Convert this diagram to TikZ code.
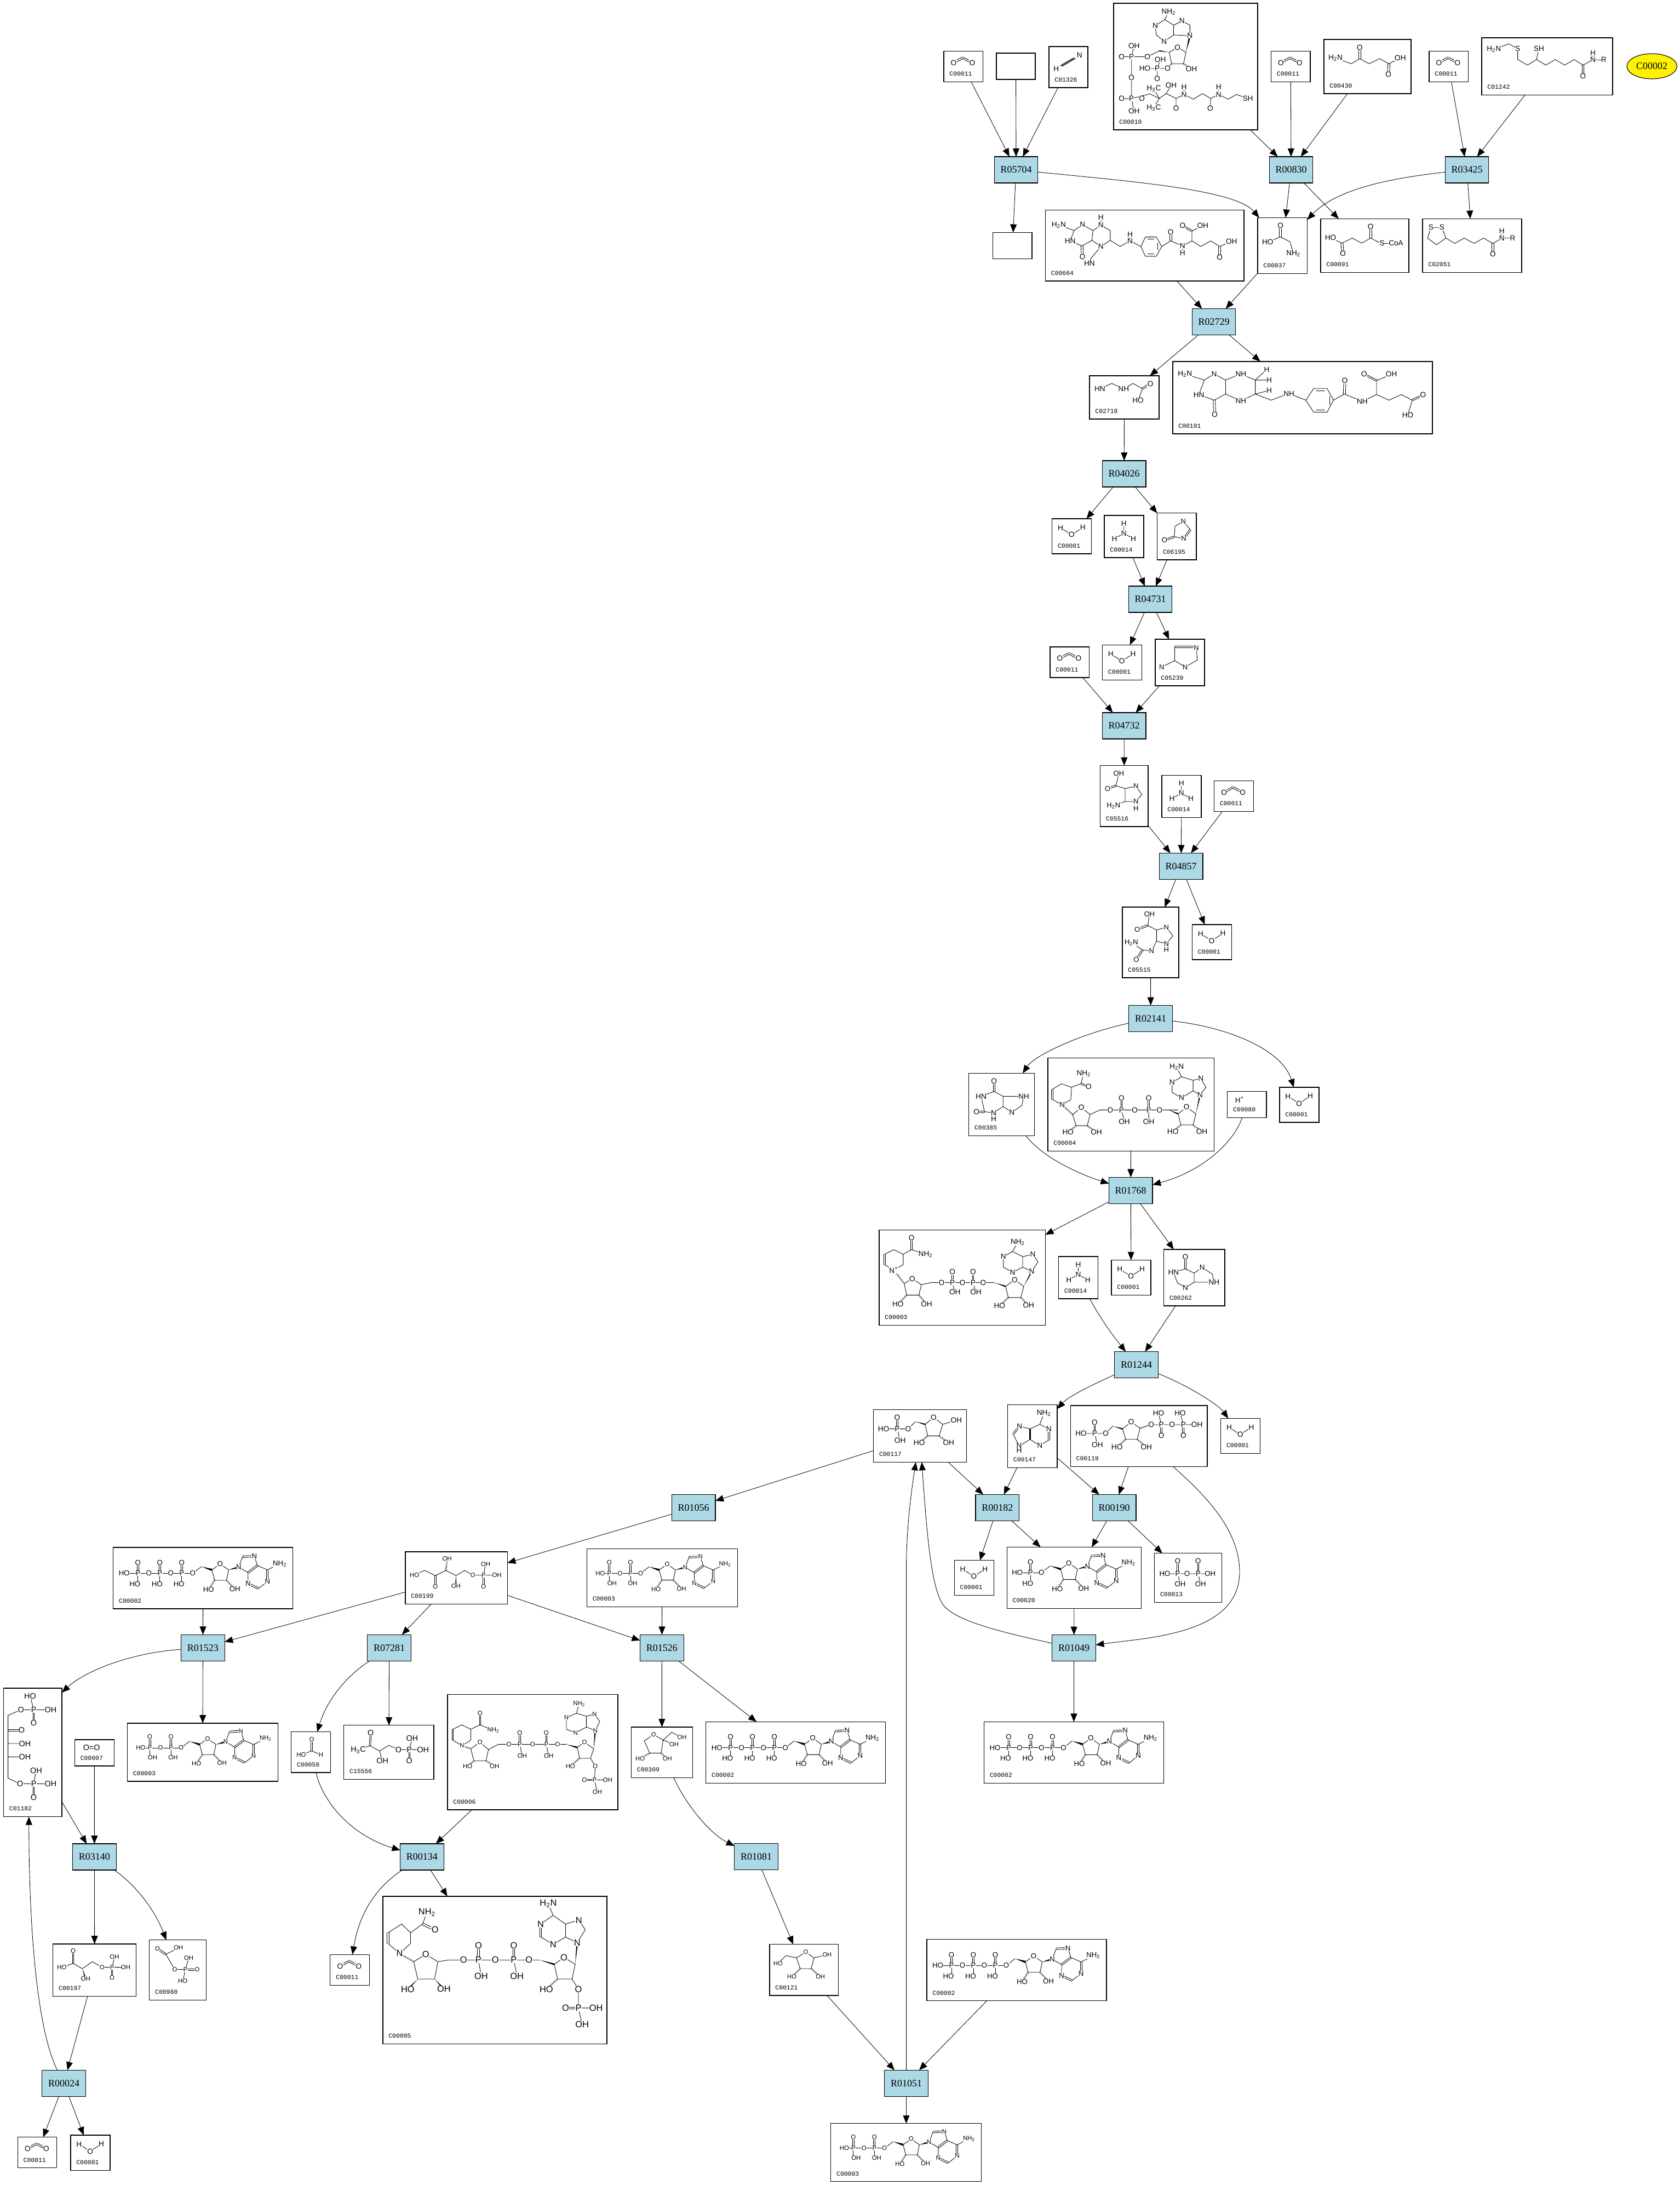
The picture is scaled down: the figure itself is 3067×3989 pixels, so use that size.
\documentclass[tikz,border=0pt]{standalone}
\usepackage{fontspec}
\setmainfont{Liberation Serif}
\setsansfont{Liberation Sans}
\setmonofont{Liberation Mono}
\usetikzlibrary{arrows.meta,shapes.geometric}
\newcounter{atc}
\def\atsz{6.8}
\def\dgap{1.5}
\def\atm(#1,#2)#3{\stepcounter{atc}\node[atom] (atm\arabic{atc}) at (#1,#2) {#3};}
\def\nrm(#1,#2)(#3,#4)#5{\pgfmathsetmacro\bdx{#3-(#1)}\pgfmathsetmacro\bdy{#4-(#2)}\pgfmathsetmacro\bdl{max(veclen(\bdx,\bdy),.01)}\pgfmathsetmacro\bnx{-\bdy/\bdl*#5}\pgfmathsetmacro\bny{\bdx/\bdl*#5}}
\def\dbb(#1,#2)(#3,#4){\nrm(#1,#2)(#3,#4){\dgap}\draw[bond] (#1+\bnx,#2+\bny)--(#3+\bnx,#4+\bny) (#1-\bnx,#2-\bny)--(#3-\bnx,#4-\bny);}
\def\wdg(#1,#2)(#3,#4){\nrm(#1,#2)(#3,#4){2}\fill (#1,#2)--(#3+\bnx,#4+\bny)--(#3-\bnx,#4-\bny)--cycle;}
\def\hsh(#1,#2)(#3,#4){\draw[hashb] (#1,#2)--(#3,#4);}
\newcommand\nbox[5]{\pgfmathsetmacro\bw{(#4-(#2))*.5}\pgfmathsetmacro\bh{(#5-(#3))*.5}\pgfmathsetmacro\bcx{(#4+#2)/2}\pgfmathsetmacro\bcy{(#5+#3)/2}\node[cbx,minimum width=\bw pt,minimum height=\bh pt] (#1) at (\bcx,\bcy) {};}
\newcommand\cbox[6]{\nbox{#1}{#2}{#3}{#4}{#5}\pgfmathsetmacro\lx{#2+10}\pgfmathsetmacro\ly{#5-14.5}\node[lab] (#1l) at (\lx,\ly) {#6};}
\newcommand\rbox[3]{\node[rxn] (#1) at (#2,#3) {#1};}
\newcommand\nhh{NH\textsubscript{2}}
\newcommand\hhn{H\textsubscript{2}N}
\newcommand\hhhc{H\textsubscript{3}C}
\newcommand\water[3]{\pgfmathsetmacro\xb{#2+72}\pgfmathsetmacro\yb{#3+64}\cbox{#1}{#2}{#3}{\xb}{\yb}{C00001}\begin{scope}[shift={(#2,#3)}]\draw[bond] (15.3,16.6)--(35.7,29.3)--(56,16);\atm(15.3,16.6){H}\atm(35.7,29.3){O}\atm(56,16){H}\end{scope}}
\newcommand\cotwo[3]{\pgfmathsetmacro\xb{#2+71.5}\pgfmathsetmacro\yb{#3+56}\cbox{#1}{#2}{#3}{\xb}{\yb}{C00011}\begin{scope}[shift={(#2,#3)}]\dbb(18,21)(34.4,12)\dbb(34.4,12)(52,21)\atm(18,21){O}\atm(52,21){O}\end{scope}}
\newcommand\amm[3]{\pgfmathsetmacro\xb{#2+72}\pgfmathsetmacro\yb{#3+77}\cbox{#1}{#2}{#3}{\xb}{\yb}{C00014}\begin{scope}[shift={(#2,#3)}]\draw[bond] (35.7,14.7)--(35.7,32.5) (18.5,42.7)--(35.7,32.5)--(53,42.7);\atm(35.7,14.7){H}\atm(35.7,32.5){N}\atm(18.5,42.7){H}\atm(53,42.7){H}\end{scope}}
\newcommand\adenosine{%
\draw[bond] (145,47.4)--(161,35);\wdg(161,35)(180,41)
\draw[bond] (180,41)--(195,30)--(210.6,41)--(206.6,60)--(185,60)--cycle;
\hsh(185,60)(174,77)\hsh(206.6,60)(222,76)\wdg(210.6,41)(229,36)
\draw[bond] (229,36)--(236,17) (257.6,16)--(263,33)--(281.6,41) (281.6,62)--(265,75) (246,66)--(246,46)--(229,36) (281.6,41)--(304,29.6);
\dbb(236,17)(257.6,16)\dbb(263,33)(246,46)\dbb(281.6,41)(281.6,62)\dbb(265,75)(246,66)
\atm(145,47.4){O}\atm(195,30){O}\atm(174,77){HO}\atm(222,76){OH}\atm(229,36){N}\atm(257.6,16){N}\atm(246,66){N}\atm(281.6,62){N}\atm(304,29.6){\nhh}}
\newcommand\atpbox[3]{\pgfmathsetmacro\xb{#2+328}\pgfmathsetmacro\yb{#3+112}\cbox{#1}{#2}{#3}{\xb}{\yb}{C00002}\begin{scope}[shift={(#2,#3)}]\def\atsz{6.6}
\draw[bond] (20,47.4)--(145,47.4) (45,47.4)--(45,62) (85,47.4)--(85,62) (125,47.4)--(125,62);
\dbb(45,47.4)(45,28)\dbb(85,47.4)(85,28)\dbb(125,47.4)(125,28)
\atm(20,47.4){HO}\atm(45,47.4){P}\atm(45,28){O}\atm(39.5,67){HO}\atm(65,47.4){O}\atm(85,47.4){P}\atm(85,28){O}\atm(80,67){HO}\atm(105,47.4){O}\atm(125,47.4){P}\atm(125,28){O}\atm(120,67){HO}\adenosine\end{scope}}
\newcommand\adpbox[3]{\pgfmathsetmacro\xb{#2+275}\pgfmathsetmacro\yb{#3+106}\cbox{#1}{#2}{#3}{\xb}{\yb}{C00003}\begin{scope}[shift={(#2,#3)}]\def\atsz{5.7}
\draw[bond] (24.5,45)--(98,45) (41,45)--(41,60) (79.6,45)--(79.6,60);
\dbb(41,45)(41,25)\dbb(79.6,45)(79.6,25)
\atm(24.5,45){HO}\atm(41,45){P}\atm(41,25){O}\atm(46,63){OH}\atm(60.5,45){O}\atm(79.6,45){P}\atm(79.6,25){O}\atm(83.5,63){OH}
\begin{scope}[shift={(-42.6,-1)},scale=.97]\adenosine\end{scope}\end{scope}}
\tikzset{
 bond/.style={line width=.42pt,line cap=round},
 hashb/.style={line width=1.4pt,dash pattern=on .35pt off .7pt},
 atom/.style={fill=white,inner sep=.2pt,font=\fontsize{\atsz}{\atsz}\selectfont\sffamily},
 cbx/.style={draw,line width=.55pt,inner sep=0pt,outer sep=0pt,fill=white},
 rxn/.style={draw,line width=.55pt,fill=lightblue,minimum width=39.8pt,minimum height=24pt,inner sep=0pt,outer sep=0pt,font=\fontsize{9}{9}\selectfont\rmfamily},
 lab/.style={anchor=west,inner sep=0pt,font=\fontsize{5.7}{5.7}\selectfont\ttfamily},
 conn/.style={line width=.42pt,-{Triangle[length=7.5pt,width=6pt]}},
 zfa/.style={shift={(1650,0)},xscale=1/1.1066,yscale=1/1.96},
 zfb/.style={shift={(1700,800)},scale=1/1.568},
 zfc/.style={shift={(1550,1800)},scale=1/1.568},
 zff/.style={shift={(1500,2500)},scale=1/1.96},
 zfd/.style={shift={(0,2750)},xscale=1/1.3635,yscale=1/1.2655},
 zfe/.style={shift={(1050,2750)},xscale=1/1.3067,yscale=1/1.2655},
}
\definecolor{lightblue}{HTML}{ADD8E6}
\begin{document}
\begin{tikzpicture}[x=.5pt,y=-.5pt]
\useasboundingbox (0,0) rectangle (3067,3989);
\fill[white] (0,0) rectangle (3067,3989);
% reactions
\rbox{R05704}{1855}{310}\rbox{R00830}{2357}{310}\rbox{R03425}{2678}{310}
\rbox{R02729}{2216}{587.5}\rbox{R04026}{2052.2}{865}\rbox{R04731}{2100}{1094}
\rbox{R04732}{2052.2}{1325}\rbox{R04857}{2156.2}{1581.5}\rbox{R02141}{2100.7}{1859.6}
\rbox{R01768}{2064.2}{2173.4}\rbox{R01244}{2074.5}{2491.6}\rbox{R00182}{1820.8}{2752.5}
\rbox{R00190}{2034.2}{2752.5}\rbox{R01056}{1266.2}{2752.5}\rbox{R01049}{1960.5}{3008.7}
\rbox{R01523}{370.4}{3008.4}\rbox{R07281}{710.6}{3008.4}\rbox{R01526}{1208.3}{3008.4}
\rbox{R03140}{172.4}{3390}\rbox{R00134}{770.4}{3390}\rbox{R01081}{1380.6}{3389.3}
\rbox{R00024}{116.6}{3803.3}\rbox{R01051}{1654.6}{3803.3}
% yellow
\node[ellipse,draw,line width=.55pt,fill=yellow,minimum width=45.7pt,minimum height=23pt,inner sep=0pt,font=\fontsize{9}{9}\selectfont\rmfamily] (C00002y) at (3015.7,121) {C00002};
% blank boxes
\nbox{blanka}{1819}{97}{1890}{145}
\nbox{blankb}{1812.7}{424.5}{1884}{472.5}
% small repeated compounds
\cotwo{co2a}{1723}{93.5}\cotwo{co2b}{2320.5}{93.5}\cotwo{co2c}{2609}{93.5}\cotwo{co2d}{1917}{1181}\cotwo{co2e}{2216.6}{1425.4}\cotwo{co2f}{602.9}{3568.3}\cotwo{co2g}{32.3}{3901.7}
\water{wa}{1920.7}{947}\water{wb}{2012.5}{1177.5}\water{wc}{2176.4}{1688}\water{wd}{2336}{1985}\water{we}{2029}{2300.5}\water{wf}{2228.6}{2589.5}\water{wg}{1742.3}{2848.5}\water{wh}{129}{3898}
\amm{nha}{2016}{941}\amm{nhb}{2121}{1415.4}\amm{nhc}{1932.7}{2294}
\atpbox{atpa}{1796.4}{3143.4}\atpbox{atpb}{1288.8}{3143.3}\atpbox{atpc}{1692}{3540.7}\atpbox{atpd}{206.8}{2825}
\adpbox{adpb}{1071.4}{2827.4}\adpbox{adpc}{1516.8}{3876.8}\adpbox{adpd}{232.5}{3146}
% other boxes
\cbox{C01326}{1915}{85}{1986}{160}{C01326}
\cbox{C00010}{2033}{6}{2296}{237}{C00010}
\cbox{C00430}{2417}{72}{2576}{171}{C00430}
\cbox{C01242}{2705}{69}{2944}{173.5}{C01242}
\cbox{C00664}{1908.5}{383.7}{2271}{513}{C00664}
\cbox{C00037}{2296}{397.5}{2386.5}{499.5}{C00037}
\cbox{C00091}{2411}{399.5}{2572}{497.5}{C00091}
\cbox{C02051}{2597}{399.5}{2778}{497.5}{C02051}
\cbox{C02718}{1989}{686}{2116}{765}{C02718}
\cbox{C00101}{2141}{660}{2615}{792}{C00101}
\cbox{C06195}{2112.6}{936.5}{2184}{1022}{C06195}
\cbox{C05239}{2109}{1167}{2199}{1252}{C05239}
\cbox{C05516}{2008.7}{1397.6}{2096}{1509}{C05516}
\cbox{C05515}{2049}{1656}{2152}{1785}{C05515}
\cbox{C00385}{1768.7}{1959.4}{1888.6}{2073.6}{C00385}
\cbox{C00004}{1913}{1931.4}{2216.5}{2101.7}{C00004}
\cbox{C00080}{2240.7}{1992.6}{2312}{2040.4}{C00080}
\cbox{C00003}{1605}{2245.8}{1908.4}{2419.3}{C00003}
\cbox{C00262}{2124.6}{2281}{2236}{2384}{C00262}
\cbox{C00117}{1594.6}{2573.6}{1764.3}{2669.3}{C00117}
\cbox{C00147}{1839.5}{2564.7}{1930}{2679.5}{C00147}
\cbox{C00119}{1954.3}{2566}{2204}{2677.6}{C00119}
\cbox{C00020}{1838.3}{2824.5}{2083.7}{2936.7}{C00020}
\cbox{C00013}{2107.7}{2835.7}{2230.6}{2925.5}{C00013}
\cbox{C00309}{1152.5}{3153}{1264.3}{3245.5}{C00309}
\cbox{C00121}{1405}{3549.7}{1530.6}{3643}{C00121}
\cbox{C00199}{740}{2833}{926.3}{2928.6}{C00199}
\cbox{C01182}{6.6}{3082}{113}{3316.6}{C01182}
\cbox{C00007}{136.4}{3176}{208.3}{3224}{C00007}
\cbox{C00058}{531.7}{3161.7}{603.6}{3236}{C00058}
\cbox{C15556}{627.8}{3149.8}{792}{3248.6}{C15556}
\cbox{C00006}{817}{3093.7}{1128}{3304}{C00006}
\cbox{C00197}{96.8}{3549}{248.6}{3644.5}{C00197}
\cbox{C00988}{272.8}{3541.8}{376.2}{3651.6}{C00988}
\cbox{C00005}{699}{3462}{1108}{3731.4}{C00005}
% molecules: top region
\begin{scope}[zfa]\def\dgap{2.2}
% C01326
\draw[bond] (318,236)--(345,208);\dbb(318,236)(345,208)
\atm(308,246){H}\atm(355,198){N}
% C00010
\draw[bond] (527,70)--(508,92)--(510,125)--(526,148)--(545,125)--(545,90)--cycle (527,70)--(535,43) (545,90)--(562,75)--(578,90)--(578,128)--(545,125);
\wdg(570,187)(578,128)
\draw[bond] (553,170)--(570,187)--(565,228)--(541,228)--(536,187)--cycle;
\wdg(536,187)(516,182)
\draw[bond] (516,182)--(492,203)--(440,203) (460,203)--(465,165) (460,203)--(460,353)--(440,353) (460,353)--(465,397) (460,353)--(497,336)--(516,352)--(505,318) (516,352)--(505,385) (516,352)--(530,335)--(540,306) (530,335)--(550,352)--(550,388) (550,352)--(566,338)--(566,312) (566,338)--(585,355)--(603,335)--(620,352)--(619,388) (620,352)--(636,338)--(636,312) (636,338)--(655,355)--(672,338)--(695,353);
\hsh(541,228)(533,245)\hsh(565,228)(581,247)
\draw[bond] (533,245)--(487,245) (512,245)--(518,214) (512,245)--(512,282);
\atm(535,43){\nhh}\atm(508,92){N}\atm(526,148){N}\atm(562,75){N}\atm(578,128){N}\atm(553,170){O}\atm(492,203){O}\atm(460,203){P}\atm(440,203){O}\atm(465,165){OH}\atm(518,214){OH}\atm(533,245){O}\atm(512,245){P}\atm(487,245){HO}\atm(512,282){O}\atm(581,247){OH}\atm(460,278){O}\atm(460,353){P}\atm(440,353){O}\atm(465,397){OH}\atm(481,353){O}\atm(505,318){\hhhc}\atm(505,385){\hhhc}\atm(540,306){OH}\atm(550,388){O}\atm(566,338){N}\atm(566,312){H}\atm(619,388){O}\atm(636,338){N}\atm(636,312){H}\atm(695,353){SH}
% C00430
\draw[bond] (872,208)--(904,228)--(921,210)--(940,228)--(961,210)--(980,228)--(1003,207);
\dbb(921,210)(921,171)\dbb(980,228)(979,266)
\atm(872,208){\hhn}\atm(921,171){O}\atm(1003,207){OH}\atm(979,266){O}
% C01242
\draw[bond] (1192,177)--(1222,157)--(1240,174)--(1240,213)--(1260,233)--(1278,213)--(1283,175) (1278,213)--(1297,233)--(1316,213)--(1335,233)--(1354,213)--(1372,233)--(1392,214)--(1414,214) (1392,214)--(1392,190);
\dbb(1372,233)(1372,272)
\atm(1192,177){\hhn}\atm(1240,174){S}\atm(1283,175){SH}\atm(1372,272){O}\atm(1392,214){N}\atm(1392,190){H}\atm(1414,214){R}
% C00664
\draw[bond] (313,805)--(344,825)--(361,804)--(382,825)--(380,860)--(360,880)--(336,862)--(344,825) (382,825)--(398,806)--(398,778) (398,806)--(417,825)--(417,860)--(398,882)--(380,860) (398,882)--(378,925)--(375,943) (417,860)--(437,882)--(457,862)--(457,838) (457,862)--(479,882) (479,882)--(488,848)--(510,848)--(521,882)--(510,917)--(488,917)--cycle (521,882)--(539,862)--(563,880)--(563,905) (563,880)--(582,862)--(582,827)--(604,807) (582,862)--(600,882)--(620,862)--(638,882)--(662,864);
\draw[bond] (493,856)--(505,856) (493,909)--(505,909) (513,870)--(513,894);
\dbb(360,880)(361,919)\dbb(539,862)(539,830)\dbb(582,827)(563,807)\dbb(638,882)(638,921)
\atm(313,805){\hhn}\atm(361,804){N}\atm(336,862){HN}\atm(361,919){O}\atm(398,806){N}\atm(398,778){H}\atm(398,882){N}\atm(375,943){HN}\atm(457,862){N}\atm(457,838){H}\atm(539,830){O}\atm(563,880){N}\atm(563,905){H}\atm(563,807){O}\atm(604,807){OH}\atm(638,921){O}\atm(662,864){OH}
% C00037
\draw[bond] (735,866)--(761,848)--(780,865)--(787,907);\dbb(761,848)(761,807)
\atm(761,807){O}\atm(735,866){HO}\atm(787,907){\nhh}
% C00091
\draw[bond] (862,851)--(885,870)--(906,852)--(925,870)--(943,852)--(963,870)--(993,870);\dbb(885,870)(887,908)\dbb(943,852)(943,812)
\atm(862,851){HO}\atm(887,908){O}\atm(943,812){O}\atm(985,870){S--CoA}
% C02051
\draw[bond] (1065,814)--(1087,814)--(1095,852)--(1076,876)--(1058,852)--cycle (1095,852)--(1113,871)--(1132,852)--(1152,871)--(1171,852)--(1190,871)--(1208,852)--(1230,852) (1208,852)--(1208,827);\dbb(1190,871)(1190,909)
\atm(1065,814){S}\atm(1087,814){S}\atm(1190,909){O}\atm(1208,852){N}\atm(1208,827){H}\atm(1230,852){R}
% C02718
\draw[bond] (396,1391)--(420,1372)--(444,1391)--(463,1372)--(482,1391)--(473,1433);\dbb(482,1391)(498,1373)
\atm(396,1391){HN}\atm(444,1391){NH}\atm(498,1373){O}\atm(473,1433){HO}
% C00101
\draw[bond] (568,1338)--(607,1360)--(627,1338)--(650,1360)--(650,1410)--(627,1432)--(596,1412)--(607,1360) (650,1360)--(681,1338)--(710,1360)--(710,1410)--(681,1435)--(650,1410) (710,1360)--(733,1322) (710,1360)--(738,1360) (710,1410)--(738,1397) (710,1410)--(742,1432)--(778,1408)--(812,1432) (812,1432)--(828,1390)--(855,1390)--(868,1432)--(855,1475)--(828,1475)--cycle (868,1432)--(890,1410)--(926,1436)--(955,1412)--(955,1362)--(985,1339) (955,1412)--(980,1432)--(1005,1412)--(1027,1432)--(1018,1486);
\draw[bond] (833,1398)--(850,1398) (833,1467)--(850,1467) (860,1418)--(860,1448);
\dbb(627,1432)(628,1483)\dbb(890,1410)(891,1362)\dbb(955,1362)(930,1339)\dbb(1027,1432)(1049,1413)
\atm(568,1338){\hhn}\atm(627,1338){N}\atm(596,1412){HN}\atm(628,1483){O}\atm(681,1338){NH}\atm(733,1322){H}\atm(738,1360){H}\atm(738,1397){H}\atm(681,1435){NH}\atm(778,1408){NH}\atm(891,1362){O}\atm(926,1436){NH}\atm(930,1339){O}\atm(985,1339){OH}\atm(1049,1413){O}\atm(1018,1486){HO}
\end{scope}
% middle region
\begin{scope}[zfb]\def\dgap{2.2}\def\atsz{6.5}
% C06195
\draw[bond] (698,252)--(722,238)--(742,262) (723,287)--(696,282)--(698,252);\dbb(742,262)(723,287)\dbb(696,282)(668,292)
\atm(722,238){N}\atm(723,287){N}\atm(668,292){O}
% C05239
\draw[bond] (759,600)--(762,635)--(727,655)--(697,637)--(660,655) (697,637)--(697,597);\dbb(697,597)(750,597)
\atm(759,600){N}\atm(727,655){N}\atm(660,655){N}
% C05516
\draw[bond] (537,960)--(529,995)--(555,1003)--(586,996)--(603,1020)--(586,1040)--(555,1040)--(522,1052) (555,1003)--(555,1040);\dbb(529,995)(505,1003)
\atm(537,960){OH}\atm(505,1003){O}\atm(586,996){N}\atm(586,1040){N}\atm(586,1060){H}\atm(522,1052){\hhn}
% C05515
\draw[bond] (625,1362)--(620,1395)--(645,1408)--(673,1400)--(692,1425)--(673,1447)--(645,1440)--(631,1468)--(605,1465)--(573,1444) (645,1408)--(645,1440);\dbb(620,1395)(590,1406)\dbb(605,1465)(587,1493)
\atm(625,1362){OH}\atm(590,1406){O}\atm(673,1400){N}\atm(673,1447){N}\atm(673,1465){H}\atm(631,1468){N}\atm(573,1444){\hhn}\atm(587,1493){O}
\end{scope}
\begin{scope}[zfc]\def\dgap{2.2}
% C00385
\draw[bond] (378,316)--(415,302)--(441,316)--(441,345)--(414,363)--(388,360)--(378,316) (441,316)--(500,316)--(495,342)--(466,362)--(441,345);\dbb(415,302)(415,273)\dbb(388,360)(365,360)
\atm(415,273){O}\atm(378,316){HN}\atm(365,360){O}\atm(414,363){N}\atm(414,380){H}\atm(500,316){NH}\atm(466,362){N}
% C00004
\draw[bond] (672,250)--(664,280)--(637,290)--(608,280)--(582,296) (582,325)--(610,340)--(635,325)--(637,290);\dbb(664,280)(686,288)\dbb(582,296)(582,325)
\hsh(610,340)(640,368)
\draw[bond] (640,368)--(665,348)--(690,368)--(682,400)--(650,400)--cycle (690,368)--(718,355)--(942,355) (780,355)--(788,388) (858,355)--(858,388);
\hsh(650,400)(627,419)\hsh(682,400)(708,419)
\dbb(780,355)(780,321)\dbb(858,355)(858,321)
\wdg(915,355)(942,366)
\draw[bond] (942,366)--(966,347)--(993,366)--(985,398)--(950,398)--cycle;
\hsh(950,398)(927,417)\hsh(985,398)(1010,417)\wdg(993,366)(1005,312)
\draw[bond] (938,232)--(952,260)--(925,276)--(925,305)--(952,320)--(985,300)--(985,270)--(952,260) (985,270)--(1007,265)--(1022,290)--(1005,312)--(985,300);
\atm(672,250){\nhh}\atm(686,288){O}\atm(610,340){N}\atm(665,348){O}\atm(627,419){HO}\atm(708,419){OH}\atm(748,355){O}\atm(780,355){P}\atm(780,321){O}\atm(788,388){OH}\atm(818,355){O}\atm(858,355){P}\atm(858,321){O}\atm(858,388){OH}\atm(889,355){O}\atm(966,347){O}\atm(927,417){HO}\atm(1010,417){OH}\atm(1005,312){N}\atm(938,232){\hhn}\atm(925,276){N}\atm(952,320){N}\atm(1007,265){N}
% C00080
\atm(1118,326){H\textsuperscript{+}}
% C00003
\draw[bond] (219,768)--(179,755)--(155,768)--(128,755)--(102,768) (102,798)--(128,813)--(155,798)--(155,768);\dbb(179,755)(179,721)\dbb(102,768)(102,798)
\hsh(128,813)(158,852)
\draw[bond] (158,852)--(181,838)--(207,855)--(200,885)--(165,885)--cycle (207,855)--(237,849)--(416,849) (296,849)--(303,877) (355,849)--(363,877);
\hsh(165,885)(140,911)\hsh(200,885)(222,911)\dbb(296,849)(296,819)\dbb(355,849)(355,819)
\wdg(416,849)(448,860)
\draw[bond] (448,860)--(474,841)--(500,860)--(492,892)--(456,892)--cycle;
\hsh(456,892)(431,916)\hsh(492,892)(514,914)\wdg(500,860)(523,817)
\draw[bond] (483,733)--(468,760)--(442,775)--(442,805)--(468,820)--(497,805)--(497,775)--(468,760) (497,775)--(526,768)--(541,790)--(523,817)--(497,805);
\atm(219,768){\nhh}\atm(179,721){O}\atm(128,813){N\textsuperscript{+}}\atm(181,838){O}\atm(140,911){HO}\atm(222,911){OH}\atm(265,849){O}\atm(296,849){P}\atm(296,819){O}\atm(303,877){OH}\atm(325,849){O}\atm(355,849){P}\atm(355,819){O}\atm(363,877){OH}\atm(384,849){O}\atm(474,841){O}\atm(431,916){HO}\atm(514,914){OH}\atm(523,817){N}\atm(483,733){\nhh}\atm(442,775){N}\atm(468,820){N}\atm(526,768){N}
% C00262
\draw[bond] (929,820)--(963,810)--(988,822)--(988,848)--(963,864)--(940,850)--(929,820) (988,822)--(1011,806)--(1040,825)--(1045,848)--(988,848);\dbb(963,810)(963,776)
\atm(963,776){O}\atm(929,820){HN}\atm(963,864){N}\atm(1011,806){N}\atm(1045,848){NH}
% C00117
\draw[bond] (99,1268)--(169,1268)--(190,1247) (138,1268)--(146,1301);\dbb(138,1268)(138,1236)\wdg(190,1247)(218,1255)
\draw[bond] (218,1255)--(242,1235)--(268,1255)--(258,1288)--(225,1288)--cycle (268,1255)--(307,1243);
\hsh(225,1288)(201,1308)\hsh(258,1288)(285,1308)
\atm(138,1236){O}\atm(99,1268){HO}\atm(138,1268){P}\atm(146,1301){OH}\atm(169,1268){O}\atm(242,1235){O}\atm(201,1308){HO}\atm(285,1308){OH}\atm(307,1243){OH}
% C00147
\draw[bond] (558,1223)--(546,1255)--(572,1268) (572,1300)--(546,1316) (518,1298)--(518,1268) (546,1255)--(518,1268)--(488,1260) (470,1283)--(487,1318)--(518,1298)--(546,1316);\dbb(572,1268)(572,1300)\dbb(518,1298)(518,1268)\dbb(488,1260)(470,1283)
\atm(558,1223){\nhh}\atm(572,1268){N}\atm(546,1316){N}\atm(488,1260){N}\atm(487,1316){N}\atm(487,1330){H}
% C00119
\draw[bond] (664,1281)--(735,1281)--(755,1260) (703,1281)--(711,1313);\dbb(703,1281)(703,1250)\wdg(755,1260)(783,1268)
\draw[bond] (783,1268)--(808,1248)--(833,1266)--(825,1298)--(792,1298)--cycle (865,1256)--(996,1256) (894,1256)--(886,1223) (957,1256)--(948,1223);
\hsh(792,1298)(767,1320)\hsh(825,1298)(851,1320)\hsh(833,1266)(865,1256)\dbb(894,1256)(894,1287)\dbb(957,1256)(957,1287)
\atm(703,1250){O}\atm(664,1281){HO}\atm(703,1281){P}\atm(711,1313){OH}\atm(735,1281){O}\atm(808,1248){O}\atm(767,1320){HO}\atm(851,1320){OH}\atm(865,1256){O}\atm(894,1256){P}\atm(886,1223){HO}\atm(894,1287){O}\atm(925,1256){O}\atm(957,1256){P}\atm(948,1223){HO}\atm(957,1287){O}\atm(996,1256){OH}
\end{scope}
% AMP C00020
\begin{scope}[shift={(1838.3,2824.5)}]\def\atsz{6.6}
\draw[bond] (19,46.5)--(63,46.5) (43,46.5)--(43,60);\dbb(43,46.5)(43,27)
\atm(19,46.5){HO}\atm(43,46.5){P}\atm(43,27){O}\atm(38,66){HO}
\begin{scope}[shift={(-82,-.9)}]\adenosine\end{scope}
\end{scope}
% C00013
\begin{scope}[zff]\def\atsz{6.6}\def\dgap{2.6}
\draw[bond] (1228,731)--(1390,731) (1274,731)--(1283,768) (1347,731)--(1356,768);\dbb(1274,731)(1274,686)\dbb(1347,731)(1347,686)
\atm(1274,686){O}\atm(1228,731){HO}\atm(1274,731){P}\atm(1283,768){OH}\atm(1308,731){O}\atm(1347,731){P}\atm(1347,686){O}\atm(1390,731){OH}\atm(1356,768){OH}
\end{scope}
% lower left
\begin{scope}[zfd]\def\dgap{1.8}
% C00199
\begingroup\def\atsz{5.7}
\draw[bond] (1032,159)--(1057,148)--(1084,160)--(1110,148)--(1135,160)--(1157,148)--(1177,159)--(1237,159) (1204,159)--(1209,133);\dbb(1084,160)(1084,185)\dbb(1204,159)(1204,185)\hsh(1110,148)(1113,121)\wdg(1135,160)(1135,184)
\atm(1032,159){HO}\atm(1084,185){O}\atm(1113,121){OH}\atm(1135,184){OH}\atm(1177,159){O}\atm(1204,159){P}\atm(1209,133){OH}\atm(1237,159){OH}\atm(1204,185){O}
% C00058
\draw[bond] (750,574)--(776,565)--(799,574);\dbb(776,565)(776,538)
\atm(776,538){O}\atm(750,574){HO}\atm(799,574){H}
% C00197
\draw[bond] (154,1065)--(182,1056)--(205,1068)--(230,1052)--(254,1065)--(313,1065) (279,1065)--(285,1041);\dbb(182,1056)(182,1027)\dbb(279,1065)(279,1089)\wdg(205,1068)(213,1091)
\atm(154,1065){HO}\atm(182,1027){O}\atm(213,1091){OH}\atm(254,1065){O}\atm(279,1065){P}\atm(285,1041){OH}\atm(313,1065){OH}\atm(279,1089){O}
% C00988
\draw[bond] (413,1035)--(444,1020) (413,1035)--(435,1070)--(462,1070)--(470,1043) (462,1070)--(455,1096);\dbb(413,1035)(392,1022)\dbb(462,1070)(491,1070)
\atm(392,1022){O}\atm(444,1020){OH}\atm(435,1070){O}\atm(462,1070){P}\atm(470,1043){OH}\atm(491,1070){O}\atm(455,1096){HO}
% C00006
\draw[bond] (1228,517)--(1195,505)--(1172,515)--(1150,505)--(1127,515) (1127,540)--(1150,553)--(1172,540)--(1172,515);\dbb(1195,505)(1195,478)\dbb(1127,515)(1127,540)\hsh(1150,553)(1172,560)
\draw[bond] (1172,560)--(1195,545)--(1216,562)--(1210,588)--(1180,588)--cycle (1216,562)--(1240,550)--(1410,550) (1294,550)--(1300,577) (1360,550)--(1366,577);
\hsh(1180,588)(1164,601)\hsh(1210,588)(1231,600)\dbb(1294,550)(1294,523)\dbb(1360,550)(1360,523)\wdg(1410,550)(1437,557)
\draw[bond] (1437,557)--(1455,545)--(1478,560)--(1470,582)--(1443,582)--cycle (1470,582)--(1482,600)--(1480,632)--(1513,632) (1480,632)--(1487,660);\hsh(1443,582)(1420,600)\dbb(1480,632)(1455,632)\wdg(1478,560)(1482,518)
\draw[bond] (1442,456)--(1435,478)--(1410,488)--(1410,515)--(1433,523)--(1460,510)--(1460,485)--(1435,478) (1460,485)--(1480,480)--(1493,497)--(1482,518)--(1460,510);
\atm(1228,517){\nhh}\atm(1195,478){O}\atm(1150,553){N}\atm(1195,545){O}\atm(1164,601){HO}\atm(1231,600){OH}\atm(1267,550){O}\atm(1294,550){P}\atm(1294,523){O}\atm(1300,577){OH}\atm(1326,550){O}\atm(1360,550){P}\atm(1360,523){O}\atm(1366,577){OH}\atm(1388,550){O}\atm(1455,545){O}\atm(1420,600){HO}\atm(1482,600){O}\atm(1480,632){P}\atm(1455,632){O}\atm(1513,632){OH}\atm(1487,660){OH}\atm(1482,518){N}\atm(1442,456){\nhh}\atm(1410,488){N}\atm(1433,523){N}\atm(1480,480){N}
\endgroup
% C01182
\begingroup\def\atsz{7.2}
\draw[bond] (20,483)--(52,470)--(126,470) (84,470)--(75,438) (20,483)--(20,628)--(50,641)--(126,641) (84,641)--(90,610) (20,548)--(62,548) (20,579)--(62,579);\dbb(84,470)(84,501)\dbb(84,641)(84,672)\dbb(20,517)(54,517)
\atm(75,438){HO}\atm(52,470){O}\atm(84,470){P}\atm(126,470){OH}\atm(84,501){O}\atm(54,517){O}\atm(62,548){OH}\atm(62,579){OH}\atm(90,610){OH}\atm(50,641){O}\atm(84,641){P}\atm(126,641){OH}\atm(84,672){O}
\atm(228,557){O=O}
% C15556
\draw[bond] (892,563)--(921,553)--(945,565)--(968,552)--(992,562)--(1053,562) (945,565)--(952,588) (1019,562)--(1026,536);\dbb(921,553)(923,523)\dbb(1019,562)(1019,588)
\atm(892,563){\hhhc}\atm(923,523){O}\atm(952,588){OH}\atm(992,562){O}\atm(1019,562){P}\atm(1026,536){OH}\atm(1053,562){OH}\atm(1019,588){O}
\endgroup
% C00005
\begingroup\def\atsz{8.2}\def\dgap{2.4}
\draw[bond] (1063,938)--(1052,965)--(1022,985)--(1000,965)--(966,985) (966,1010)--(995,1033)--(1022,1010)--(1022,985);\dbb(1052,965)(1083,978)\dbb(966,985)(966,1010)\hsh(995,1033)(1030,1052)
\draw[bond] (1030,1052)--(1060,1035)--(1090,1052)--(1082,1092)--(1040,1092)--cycle (1090,1052)--(1118,1048)--(1343,1048) (1191,1048)--(1198,1085) (1279,1048)--(1287,1085);
\wdg(1040,1092)(1015,1116)\wdg(1082,1092)(1105,1115)\dbb(1191,1048)(1191,1015)\dbb(1279,1048)(1279,1015)\wdg(1343,1048)(1380,1058)
\draw[bond] (1380,1058)--(1404,1042)--(1432,1058)--(1424,1092)--(1388,1092)--cycle (1424,1092)--(1440,1116)--(1440,1159)--(1484,1159) (1440,1159)--(1449,1197);\hsh(1388,1092)(1360,1116)\dbb(1440,1159)(1408,1159)\wdg(1432,1058)(1437,1008)
\draw[bond] (1365,918)--(1377,945)--(1346,965) (1346,995)--(1377,1012)--(1408,995)--(1408,965)--(1377,945) (1408,965)--(1441,956)--(1457,978)--(1437,1008)--(1408,995);\dbb(1346,965)(1346,995)
\atm(1063,938){\nhh}\atm(1083,978){O}\atm(995,1033){N}\atm(1060,1035){O}\atm(1015,1116){HO}\atm(1105,1115){OH}\atm(1154,1048){O}\atm(1191,1048){P}\atm(1191,1015){O}\atm(1198,1085){OH}\atm(1233,1048){O}\atm(1279,1048){P}\atm(1279,1015){O}\atm(1287,1085){OH}\atm(1317,1048){O}\atm(1404,1042){O}\atm(1360,1116){HO}\atm(1440,1116){O}\atm(1440,1159){P}\atm(1408,1159){O}\atm(1484,1159){OH}\atm(1449,1197){OH}\atm(1437,1008){N}\atm(1365,918){\hhn}\atm(1346,965){N}\atm(1377,1012){N}\atm(1441,956){N}
\endgroup
\end{scope}
\begin{scope}[zfe]\def\atsz{5.6}
% C00309
\draw[bond] (187,527)--(210,540)--(205,570)--(178,570)--(165,542)--cycle (210,540)--(230,522)--(255,534) (210,540)--(236,550);\hsh(178,570)(155,583)\hsh(205,570)(220,583)
\atm(187,527){O}\atm(255,534){OH}\atm(236,550){OH}\atm(155,583){HO}\atm(220,583){OH}
% C00121
\draw[bond] (550,1030)--(570,1043)--(563,1068)--(537,1068)--(528,1043)--cycle (528,1043)--(503,1038)--(484,1056) (570,1043)--(601,1036);\hsh(537,1068)(517,1087)\hsh(563,1068)(585,1087)
\atm(550,1030){O}\atm(484,1056){HO}\atm(601,1036){OH}\atm(517,1087){HO}\atm(585,1087){OH}
\end{scope}
% connectors
\foreach \a/\b in {co2a/R05704,blanka/R05704,C01326/R05704,R05704/blankb,C00010/R00830,co2b/R00830,C00430/R00830,R00830/C00037,R00830/C00091,co2c/R03425,C01242/R03425,R03425/C02051,C00664/R02729,C00037/R02729,R02729/C02718,R02729/C00101,C02718/R04026,R04026/wa,R04026/C06195,nha/R04731,C06195/R04731,R04731/wb,R04731/C05239,co2d/R04732,C05239/R04732,R04732/C05516,C05516/R04857,nhb/R04857,co2e/R04857,R04857/C05515,R04857/wc,C05515/R02141,C00004/R01768,R01768/C00003,R01768/we,R01768/C00262,C00262/R01244,C00117/R00182,C00147/R00182,C00147/R00190,C00119/R00190,R00182/wg,R00182/C00020,R00190/C00020,R00190/C00013,C00020/R01049,R01049/atpa,C00117/R01056,R01056/C00199,C00199/R01523,C00199/R07281,C00199/R01526,atpd/R01523,R01523/adpd,R07281/C15556,adpb/R01526,R01526/C00309,R01526/atpb,R01081/C00121,C00121/R01051,atpc/R01051,R01051/adpc,C00006/R00134,R00134/C00005,C01182/R03140,C00007/R03140,R03140/C00197,C00197/R00024,R00024/co2g,R00024/wh}
 {\draw[conn] (\a) -- (\b);}
\draw[conn] (R05704) .. controls (2050,330) and (2255,345) .. (C00037);
\draw[conn] (R03425) .. controls (2540,325) and (2440,345) .. (C00037);
\draw[conn] (R02141) .. controls (1980,1885) and (1890,1925) .. (C00385);
\draw[conn] (R02141) .. controls (2240,1875) and (2340,1915) .. (wd);
\draw[conn] (C00385) .. controls (1905,2115) and (1975,2145) .. (R01768);
\draw[conn] (C00080) .. controls (2250,2090) and (2190,2140) .. (R01768);
\draw[conn] (nhc) .. controls (2005,2400) and (2025,2430) .. (R01244);
\draw[conn] (R01244) .. controls (1990,2530) and (1950,2550) .. (C00147);
\draw[conn] (R01244) .. controls (2170,2530) and (2225,2565) .. (wf);
\draw[conn] (C00119) .. controls (2195,2725) and (2263,2790) .. (2263,2870) .. controls (2263,2985) and (2090,2990) .. (R01049);
\draw[conn] (R01049) .. controls (1830,2980) and (1745,2960) .. (1722,2930) .. controls (1700,2900) and (1692,2800) .. (C00117);
\draw[conn] (R01051) -- (1654.6,2850) .. controls (1656,2780) and (1664,2720) .. (C00117);
\draw[conn] (R01523) .. controls (230,3018) and (150,3055) .. ([yshift=-4pt]C01182.north east);
\draw[conn] (R07281) .. controls (625,3065) and (595,3110) .. (C00058);
\draw[conn] (C00058) .. controls (590,3290) and (640,3350) .. (R00134);
\draw[conn] (R00134) .. controls (680,3450) and (655,3500) .. (co2f);
\draw[conn] (R03140) .. controls (240,3435) and (280,3480) .. (C00988);
\draw[conn] (R00024) .. controls (65,3700) and (52.8,3500) .. ([xshift=-3.5pt]C01182.south);
\draw[conn] (C00309) .. controls (1255,3300) and (1300,3350) .. (R01081);
\end{tikzpicture}
\end{document}
